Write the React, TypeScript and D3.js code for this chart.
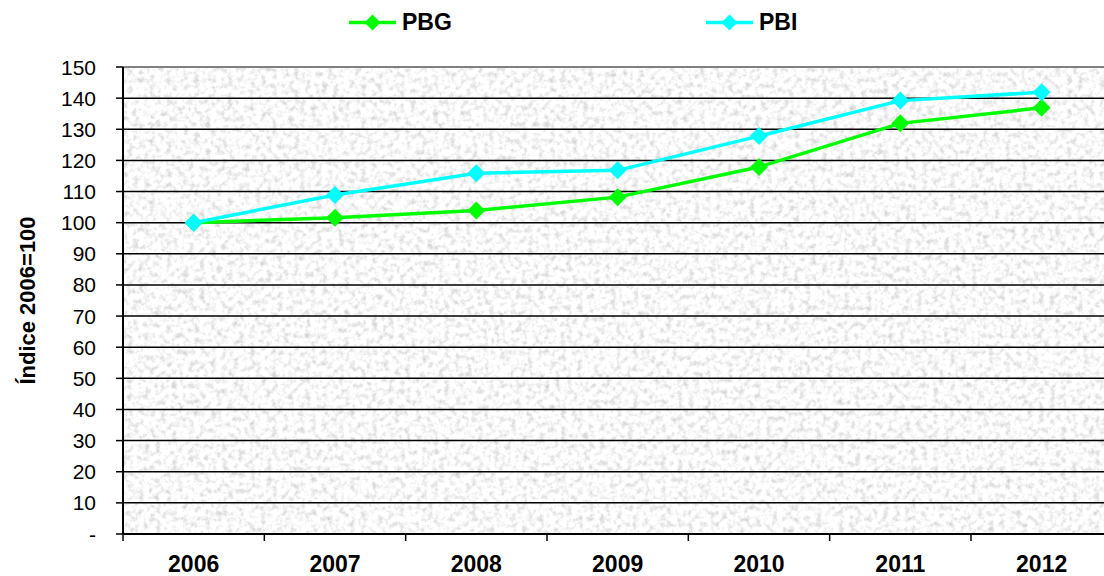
import React from "react";
import * as d3 from "d3";

const years = ["2006", "2007", "2008", "2009", "2010", "2011", "2012"];
const pbg = [100, 101.6, 103.9, 108.2, 117.9, 131.9, 136.9];
const pbi = [100, 108.9, 115.9, 116.8, 127.8, 139.2, 141.9];
const yTicks = [0, 10, 20, 30, 40, 50, 60, 70, 80, 90, 100, 110, 120, 130, 140, 150];

const series = [
  { name: "PBG", values: pbg, color: "#00ff00" },
  { name: "PBI", values: pbi, color: "#00ffff" },
];

export default function App() {
  const W = 1104, H = 576;
  const left = 123, top = 67, bottom = 534, bandW = 141.33;
  const right = left + bandW * years.length;
  const x = d3.scaleBand().domain(years).range([left, right]);
  const y = d3.scaleLinear().domain([0, 150]).range([bottom, top]);
  const line = d3.line<number>()
    .x((_, i) => (x(years[i]) as number) + x.bandwidth() / 2)
    .y((d) => y(d));
  const diamond = (cx: number, cy: number, r: number) =>
    `M${cx},${cy - r}L${cx + r},${cy}L${cx},${cy + r}L${cx - r},${cy}Z`;
  const font = "Arial, 'Liberation Sans', sans-serif";
  const legendPos = [349, 706];

  return (
    <svg width={W} height={H} style={{ position: "absolute", left: 0, top: 0 }} fontFamily={font}>
      <defs>
        <filter id="granite" x="0" y="0" width="100%" height="100%" colorInterpolationFilters="sRGB">
          <feTurbulence type="fractalNoise" baseFrequency="0.18" numOctaves="3" seed="4" />
          <feColorMatrix type="matrix" values="-0.4 0 0 0 1.18  -0.4 0 0 0 1.18  -0.4 0 0 0 1.18  0 0 0 0 1" />
        </filter>
      </defs>
      <rect x={0} y={0} width={W} height={H} fill="#ffffff" />
      <rect x={left} y={top} width={right - left} height={bottom - top} fill="#eeeeee" filter="url(#granite)" />
      <line x1={left} x2={right} y1={top} y2={top} stroke="#808080" strokeWidth={2} />
      {yTicks.filter((t) => t > 0 && t < 150).map((t) => (
        <line key={t} x1={left} x2={right} y1={y(t)} y2={y(t)} stroke="#000" strokeWidth={1.5} />
      ))}
      {/* y axis */}
      <line x1={left} x2={left} y1={top} y2={bottom} stroke="#000" strokeWidth={2} />
      {yTicks.map((t) => (
        <g key={t}>
          <line x1={left - 7} x2={left} y1={y(t)} y2={y(t)} stroke="#000" strokeWidth={1.5} />
          <text x={96} y={y(t)} dy="0.36em" textAnchor="end" fontSize={21} fill="#000">
            {t === 0 ? "-" : t}
          </text>
        </g>
      ))}
      {/* x axis */}
      <line x1={left} x2={right} y1={bottom} y2={bottom} stroke="#000" strokeWidth={2} />
      {years.map((yr, i) => (
        <g key={yr}>
          <line x1={left + i * bandW} x2={left + i * bandW} y1={bottom} y2={bottom + 7} stroke="#000" strokeWidth={1.5} />
          <text x={(x(yr) as number) + x.bandwidth() / 2} y={572} textAnchor="middle" fontSize={23} fontWeight="bold" fill="#000">
            {yr}
          </text>
        </g>
      ))}
      <text transform={`translate(35,${(top + bottom) / 2}) rotate(-90)`} textAnchor="middle" fontSize={22} fontWeight="bold" fill="#000">
        Índice 2006=100
      </text>
      {/* series */}
      {series.map((s) => (
        <g key={s.name}>
          <path d={line(s.values) as string} fill="none" stroke={s.color} strokeWidth={3.5} />
          {s.values.map((v, i) => (
            <path key={i} d={diamond((x(years[i]) as number) + x.bandwidth() / 2, y(v), 9)} fill={s.color} />
          ))}
        </g>
      ))}
      {/* legend */}
      {series.map((s, i) => (
        <g key={s.name}>
          <line x1={legendPos[i]} x2={legendPos[i] + 47} y1={22.5} y2={22.5} stroke={s.color} strokeWidth={3.5} />
          <path d={diamond(legendPos[i] + 23.5, 22.5, 8)} fill={s.color} />
          <text x={legendPos[i] + 53} y={30} fontSize={23} fontWeight="bold" fill="#000">
            {s.name}
          </text>
        </g>
      ))}
    </svg>
  );
}
